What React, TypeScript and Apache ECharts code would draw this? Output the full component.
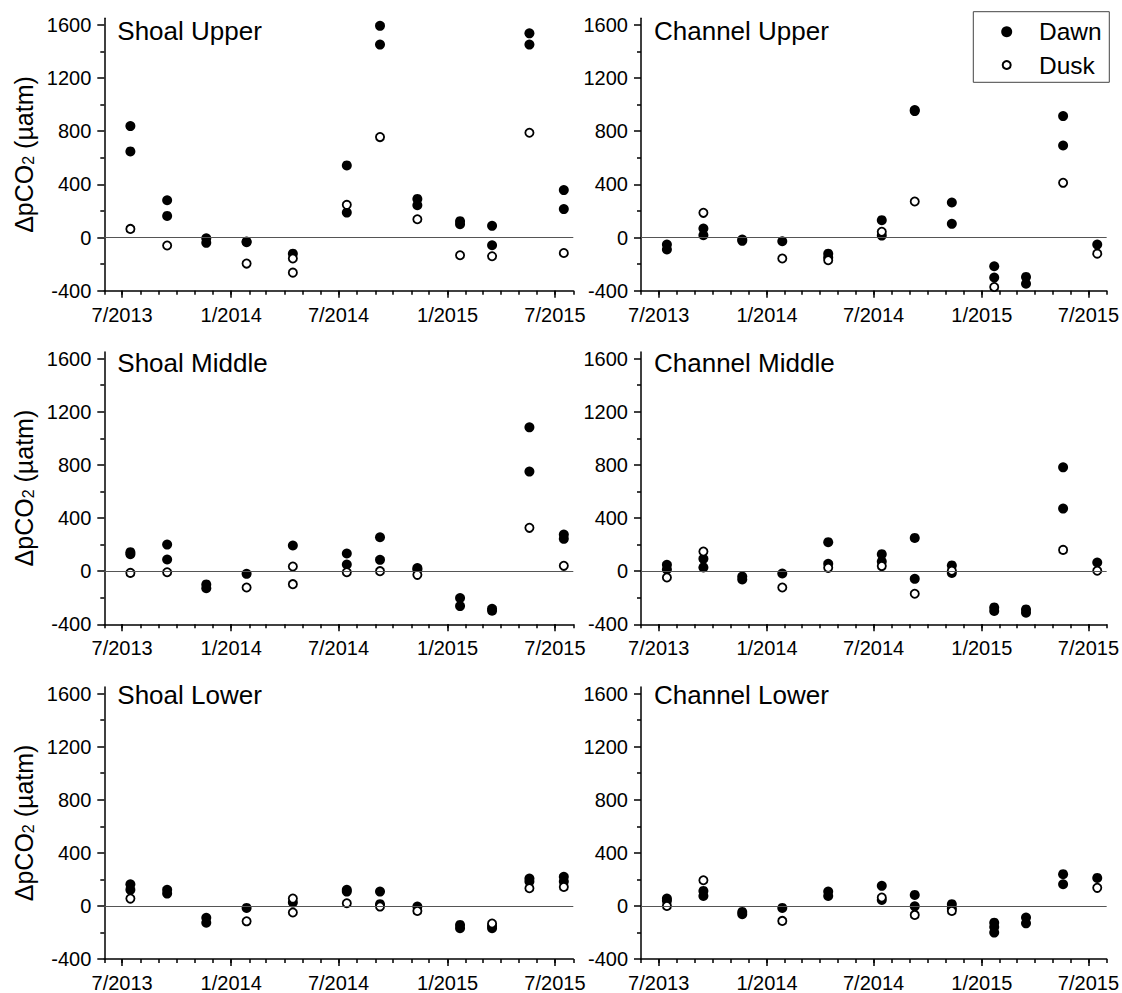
import React, { useEffect, useRef } from 'react';
import * as echarts from 'echarts';

const FONT = '"Liberation Sans", Arial, Helvetica, sans-serif';

// Sampling dates (12 campaigns)
const sampleDates = [
  '2013-07-15', '2013-09-15', '2013-11-20', '2014-01-27', '2014-04-15', '2014-07-15',
  '2014-09-09', '2014-11-11', '2015-01-22', '2015-03-17', '2015-05-19', '2015-07-16',
];

const xTickLabels = ['7/2013', '1/2014', '7/2014', '1/2015', '7/2015'];
const yTickValues = [-400, 0, 400, 800, 1200, 1600];
const yMinorTickValues = [-200, 200, 600, 1000, 1400];

const panelTitles = ['Shoal Upper', 'Channel Upper', 'Shoal Middle', 'Channel Middle', 'Shoal Lower', 'Channel Lower'];
const legendNames = ['Dawn', 'Dusk'];

// ΔpCO2 (µatm) per sampling date
const shoalUpperDawn = [[839, 648], [281, 163], [-5, -40], [-30, -35], [-121], [543, 188], [1593, 1452], [291, 244], [123, 100], [88, -58], [1537, 1452], [357, 214]];
const shoalUpperDusk = [[65], [-60], [], [-196], [-158, -264], [246], [756], [138], [-133], [-141], [789], [-116]];

const channelUpperDawn = [[-53, -90], [68, 18], [-15, -25], [-28], [-121, -150], [131, 15], [960, 952], [264, 103], [-216, -301], [-296, -347], [914, 693], [-53]];
const channelUpperDusk = [[], [186], [], [-158], [-171], [43], [271], [], [-372], [], [412], [-121]];

const shoalMiddleDawn = [[143, 128], [200, 88], [-100, -128], [-20], [193], [133, 50], [255, 85], [23, 13], [-203, -263], [-283, -298], [1082, 749], [275, 243]];
const shoalMiddleDusk = [[-13], [-8], [], [-123], [35, -98], [-8], [0], [-28], [], [], [326], [40]];

const channelMiddleDawn = [[48, 13], [93, 28], [-40, -63], [-18], [218, 55], [128, 73], [250, -58], [43, -13], [-273, -300], [-288, -313], [781, 471], [65]];
const channelMiddleDusk = [[-48], [148], [], [-123], [25], [38], [-170], [3], [], [], [160], [3]];

const shoalLowerDawn = [[163, 121], [121, 93], [-90, -126], [-15], [25], [121, 108], [108, 13], [-5], [-143, -168], [-151, -168], [206, 183], [219, 183]];
const shoalLowerDusk = [[55], [], [], [-116], [55, -50], [20], [-5], [-38], [], [-133], [133], [143]];

const channelLowerDawn = [[55, 38], [113, 75], [-45, -63], [-15], [108, 75], [151, 45], [83, -3], [13, -20], [-126, -158, -201], [-88, -131], [239, 163], [211]];
const channelLowerDusk = [[0], [193], [], [-113], [], [63], [-68], [-38], [], [], [], [136]];

const panelDawn = [shoalUpperDawn, channelUpperDawn, shoalMiddleDawn, channelMiddleDawn, shoalLowerDawn, channelLowerDawn];
const panelDusk = [shoalUpperDusk, channelUpperDusk, shoalMiddleDusk, channelMiddleDusk, shoalLowerDusk, channelLowerDusk];

function toTime(s: string) {
  const [y, m, d] = s.split('-').map(Number);
  return Date.UTC(y, m - 1, d);
}
function labelToTime(l: string) {
  const [m, y] = l.split('/').map(Number);
  return Date.UTC(y, m - 1, 1);
}
function fmt(v: number) {
  const d = new Date(v);
  return `${d.getUTCMonth() + 1}/${d.getUTCFullYear()}`;
}

const X_MIN = Date.UTC(2013, 5, 1);
const X_MAX = Date.UTC(2015, 7, 1);
const Y_MIN = -400;
const Y_MAX = 1650;

function buildSeriesData(values: number[][]) {
  const out: [number, number][] = [];
  values.forEach((vals, i) => {
    const t = toTime(sampleDates[i]);
    vals.forEach((v) => out.push([t, v]));
  });
  return out;
}

export default function App() {
  const ref = useRef<HTMLDivElement>(null);

  useEffect(() => {
    document.body.style.margin = '0';
    if (!ref.current) return;
    const chart = echarts.init(ref.current, null, { renderer: 'svg' });

    const majorX = xTickLabels.map(labelToTime);
    const monthTicks: number[] = [];
    for (let k = 0; ; k++) {
      const t = Date.UTC(2013, 5 + k, 1);
      if (t > X_MAX) break;
      monthTicks.push(t);
    }

    const rowTops = [18.3, 351.9, 686.9];
    const gridH = 272.4;
    const colLeft = [104.3, 641];
    const colW = [469, 468.3];
    const titleTops = [17.8, 349.5, 681.8];

    const grids: any[] = [];
    const xAxes: any[] = [];
    const yAxes: any[] = [];
    const series: any[] = [];
    const titles: any[] = [];

    const lineStyle = { color: '#000', width: 1.5 };

    for (let i = 0; i < 6; i++) {
      const row = Math.floor(i / 2);
      const col = i % 2;
      grids.push({ left: colLeft[col], top: rowTops[row], width: colW[col], height: gridH, containLabel: false });

      xAxes.push({
        type: 'value', gridIndex: i, min: X_MIN, max: X_MAX, position: 'bottom',
        axisLine: { show: true, onZero: false, lineStyle },
        axisTick: { show: true, length: 7, lineStyle, customValues: majorX },
        axisLabel: { show: true, customValues: majorX, formatter: (v: number) => fmt(v), fontSize: 20, color: '#000', fontFamily: FONT, margin: 14 },
        splitLine: { show: false },
      });
      xAxes.push({
        type: 'value', gridIndex: i, min: X_MIN, max: X_MAX, position: 'bottom',
        axisLine: { show: false, onZero: false },
        axisTick: { show: true, length: 4, lineStyle, customValues: monthTicks },
        axisLabel: { show: false },
        splitLine: { show: false },
      });

      const yMain: any = {
        type: 'value', gridIndex: i, min: Y_MIN, max: Y_MAX, position: 'left',
        axisLine: { show: true, onZero: false, lineStyle },
        axisTick: { show: true, length: 7, lineStyle, customValues: yTickValues },
        axisLabel: { show: true, customValues: yTickValues, formatter: (v: number) => String(v), fontSize: 20, color: '#000', fontFamily: FONT, margin: 13 },
        splitLine: { show: false },
      };
      if (col === 0) {
        yMain.name = '{a|ΔpCO}{s|2}{a| (µatm)}';
        yMain.nameLocation = 'middle';
        yMain.nameRotate = 90;
        yMain.nameGap = 68;
        yMain.nameTextStyle = {
          color: '#000', fontFamily: FONT, fontSize: 25,
          rich: {
            a: { fontSize: 25, fontFamily: FONT, color: '#000' },
            s: { fontSize: 16, fontFamily: FONT, color: '#000', verticalAlign: 'bottom' },
          },
        };
      }
      yAxes.push(yMain);
      yAxes.push({
        type: 'value', gridIndex: i, min: Y_MIN, max: Y_MAX, position: 'left',
        axisLine: { show: false, onZero: false },
        axisTick: { show: true, length: 4, lineStyle, customValues: yMinorTickValues },
        axisLabel: { show: false },
        splitLine: { show: false },
      });

      series.push({
        type: 'scatter', name: 'zero', xAxisIndex: 2 * i, yAxisIndex: 2 * i, data: [], z: 1, silent: true,
        markLine: {
          silent: true, symbol: ['none', 'none'], animation: false,
          label: { show: false },
          lineStyle: { color: '#555', width: 1.2, type: 'solid', opacity: 1 },
          data: [{ yAxis: 0 }],
        },
      });
      series.push({
        type: 'scatter', name: legendNames[0], xAxisIndex: 2 * i, yAxisIndex: 2 * i,
        data: buildSeriesData(panelDawn[i]), symbol: 'circle', symbolSize: 10,
        itemStyle: { color: '#000', opacity: 1 }, z: 3, silent: true,
      });
      series.push({
        type: 'scatter', name: legendNames[1], xAxisIndex: 2 * i, yAxisIndex: 2 * i,
        data: buildSeriesData(panelDusk[i]), symbol: 'circle', symbolSize: 8.2,
        itemStyle: { color: '#fff', borderColor: '#000', borderWidth: 1.8, opacity: 1 }, z: 4, silent: true,
      });

      titles.push({
        text: panelTitles[i], left: colLeft[col] + 13, top: titleTops[row], padding: 0,
        textStyle: { fontSize: 26, fontWeight: 'normal', color: '#000', fontFamily: FONT },
      });
    }

    // Legend box (Channel Upper panel)
    const lgX = 973.3, lgY = 11.7, lgW = 136, lgH = 70.6;
    const graphic: any[] = [
      { type: 'rect', shape: { x: lgX, y: lgY, width: lgW, height: lgH }, style: { fill: '#fff', stroke: '#444', lineWidth: 1 }, z: 10, silent: true },
      { type: 'circle', shape: { cx: 1006.7, cy: 31.7, r: 5.5 }, style: { fill: '#000' }, z: 11, silent: true },
      { type: 'circle', shape: { cx: 1006.7, cy: 65, r: 4 }, style: { fill: '#fff', stroke: '#000', lineWidth: 2 }, z: 11, silent: true },
      { type: 'text', x: 1039, y: 31.7, style: { text: legendNames[0], fontSize: 24.5, fontFamily: FONT, fill: '#000', textVerticalAlign: 'middle', verticalAlign: 'middle' }, z: 11, silent: true },
      { type: 'text', x: 1039, y: 65, style: { text: legendNames[1], fontSize: 24.5, fontFamily: FONT, fill: '#000', textVerticalAlign: 'middle', verticalAlign: 'middle' }, z: 11, silent: true },
    ];

    chart.setOption({
      animation: false,
      backgroundColor: '#fff',
      title: titles,
      grid: grids,
      xAxis: xAxes,
      yAxis: yAxes,
      graphic,
      series,
    });

    return () => chart.dispose();
  }, []);

  return <div ref={ref} style={{ position: 'absolute', left: 0, top: 0, width: 1122, height: 993 }} />;
}
